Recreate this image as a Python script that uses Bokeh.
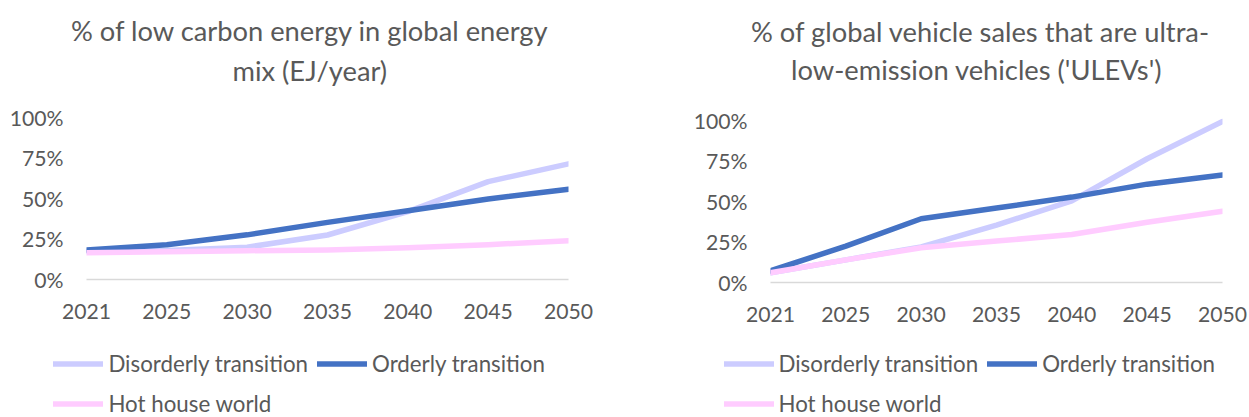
from bokeh.plotting import figure
from bokeh.models import (Range1d, FixedTicker, NumeralTickFormatter, Title,
                          Legend, LegendItem)
from bokeh.layouts import row, column
from bokeh.embed import file_html
from bokeh.resources import INLINE

years = ["2021", "2025", "2030", "2035", "2040", "2045", "2050"]
series_names = ["Disorderly transition", "Orderly transition", "Hot house world"]
series_colors = ["#CCCCFF", "#4472C4", "#FFCCFF"]

# % of low carbon energy in global energy mix
energy_disorderly = [0.175, 0.180, 0.200, 0.275, 0.420, 0.605, 0.715]
energy_orderly = [0.183, 0.215, 0.276, 0.353, 0.425, 0.498, 0.558]
energy_hothouse = [0.165, 0.172, 0.178, 0.183, 0.196, 0.215, 0.240]

# % of global vehicle sales that are ULEVs
ulev_disorderly = [0.060, 0.140, 0.220, 0.355, 0.505, 0.765, 0.995]
ulev_orderly = [0.072, 0.225, 0.394, 0.460, 0.528, 0.608, 0.664]
ulev_hothouse = [0.060, 0.140, 0.215, 0.256, 0.297, 0.373, 0.441]

y_ticks = [0, 0.25, 0.5, 0.75, 1.0]

FONT = "Lato"
TXT = "#595959"
TITLE_SIZE = "27.3px"
TICK_SIZE = "21.2px"
LEGEND_SIZE = "22.3px"
LINE_W = 5.5


def make_chart(title_lines, values, frame_w, left_b, right_b, top_b, bottom_b,
               spacer_gap, title_gap, offsets):
    x = list(range(len(years)))
    p = figure(frame_width=frame_w, frame_height=165,
               min_border_left=left_b, min_border_right=right_b,
               min_border_top=top_b, min_border_bottom=bottom_b,
               x_range=Range1d(0, len(years) - 1), y_range=Range1d(0, 1.02),
               toolbar_location=None, output_backend="svg", title=None)
    p.frame_align = False
    p.outline_line_color = None
    p.xgrid.visible = False
    p.ygrid.visible = False

    # stacked from the frame outwards: spacer, second title line, first line
    spacer = Title(text=" ", text_font_size="10px", standoff=spacer_gap)
    t2 = Title(text=title_lines[1], align="left", offset=offsets[1],
               standoff=title_gap, text_font=FONT, text_font_size=TITLE_SIZE,
               text_font_style="normal", text_color=TXT)
    t1 = Title(text=title_lines[0], align="left", offset=offsets[0],
               standoff=title_gap, text_font=FONT, text_font_size=TITLE_SIZE,
               text_font_style="normal", text_color=TXT)
    p.add_layout(spacer, "above")
    p.add_layout(t2, "above")
    p.add_layout(t1, "above")

    xa = p.xaxis[0]
    xa.ticker = FixedTicker(ticks=x)
    xa.major_label_overrides = {i: y for i, y in enumerate(years)}
    xa.axis_line_color = "#D9D9D9"
    xa.axis_line_width = 1.5
    xa.major_tick_line_color = None
    xa.minor_tick_line_color = None
    xa.major_tick_out = 0
    xa.major_tick_in = 0
    xa.major_label_standoff = 24
    xa.major_label_text_font = FONT
    xa.major_label_text_font_size = TICK_SIZE
    xa.major_label_text_color = TXT

    ya = p.yaxis[0]
    ya.ticker = FixedTicker(ticks=y_ticks)
    ya.formatter = NumeralTickFormatter(format="0%")
    ya.axis_line_color = None
    ya.major_tick_line_color = None
    ya.minor_tick_line_color = None
    ya.major_tick_out = 0
    ya.major_tick_in = 0
    ya.major_label_standoff = 23
    ya.major_label_text_font = FONT
    ya.major_label_text_font_size = TICK_SIZE
    ya.major_label_text_color = TXT

    for col, vals in zip(series_colors, values):
        p.line(x, vals, line_color=col, line_width=LINE_W,
               line_cap="round", line_join="round")
    return p


def make_legend(values, width, height, legend_x, legend_y):
    # legend-only strip: the series are drawn outside its visible range,
    # only their legend samples show
    x = list(range(len(years)))
    q = figure(width=width, height=height, min_border=0,
               x_range=Range1d(len(years), len(years) + 1),
               y_range=Range1d(0, 1),
               x_axis_type=None, y_axis_type=None,
               toolbar_location=None, output_backend="svg", title=None)
    q.frame_align = False
    q.outline_line_color = None
    q.xgrid.visible = False
    q.ygrid.visible = False
    items = []
    for name, col, vals in zip(series_names, series_colors, values):
        r = q.line(x, vals, line_color=col, line_width=LINE_W,
                   line_cap="round", line_join="round")
        items.append(LegendItem(label=name, renderers=[r]))
    leg = Legend(items=items, orientation="horizontal", ncols=2,
                 location=(legend_x, legend_y),
                 glyph_width=50, glyph_height=31, label_height=26,
                 label_standoff=5, spacing=9, padding=0, margin=0,
                 border_line_color=None, background_fill_alpha=0,
                 label_text_font=FONT, label_text_font_size=LEGEND_SIZE,
                 label_text_color=TXT)
    q.add_layout(leg, "center")
    return q


energy_values = [energy_disorderly, energy_orderly, energy_hothouse]
ulev_values = [ulev_disorderly, ulev_orderly, ulev_hothouse]

left = make_chart(["% of low carbon energy in global energy", "mix (EJ/year)"],
                  energy_values,
                  frame_w=482, left_b=86, right_b=52, top_b=114, bottom_b=50,
                  spacer_gap=12.4, title_gap=5.2, offsets=(-15.5, 146))
right = make_chart(["% of global vehicle sales that are ultra-",
                    "low-emission vehicles ('ULEVs')"],
                   ulev_values,
                   frame_w=452, left_b=150, right_b=27, top_b=117, bottom_b=47,
                   spacer_gap=16.9, title_gap=2.9, offsets=(-19.5, 20.5))

left_leg = make_legend(energy_values, 620, 88, 53.4, -1.5)
right_leg = make_legend(ulev_values, 629, 88, 103.5, -1.5)

layout = row(column(left, left_leg), column(right, right_leg))
open("out.html", "w").write(file_html(layout, INLINE))
